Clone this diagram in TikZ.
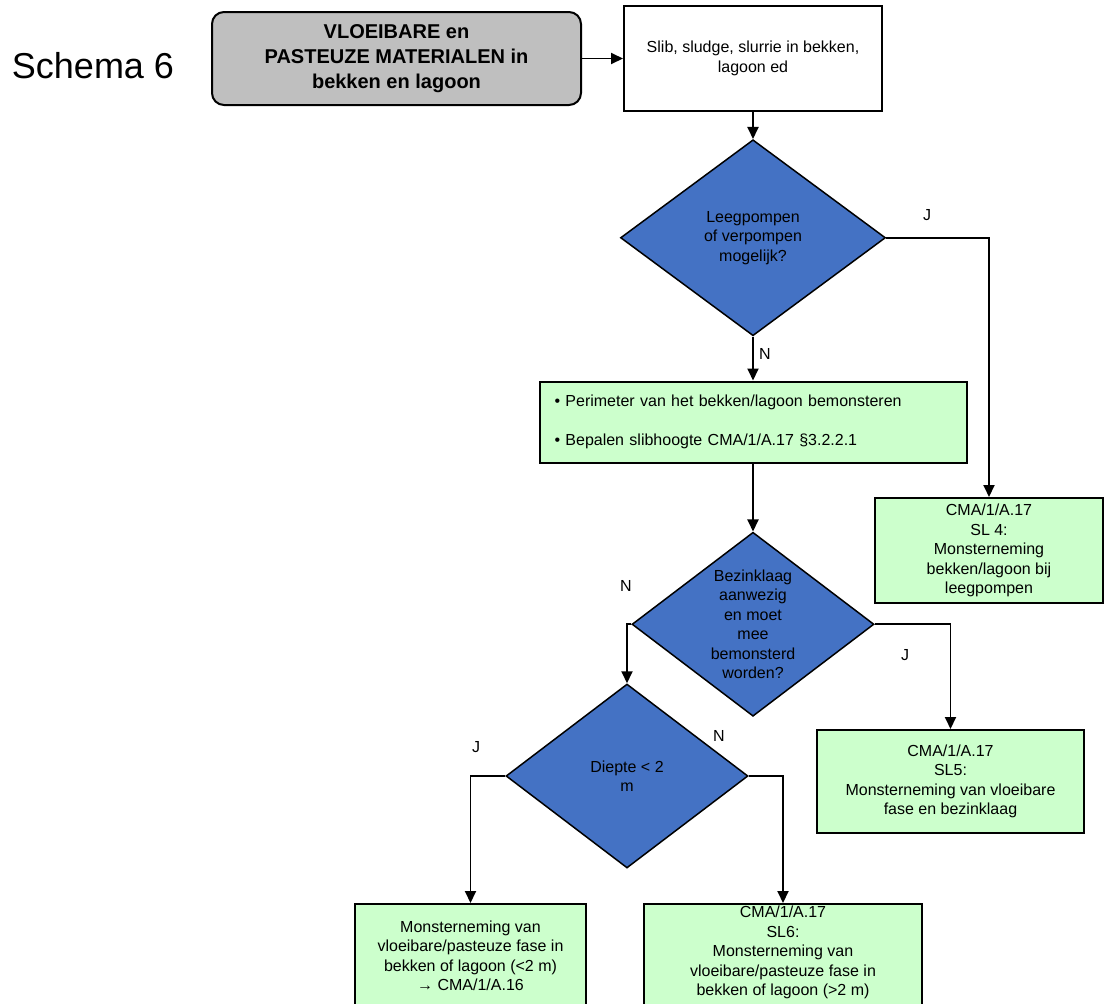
\documentclass[tikz,border=0pt]{standalone}
\usepackage{fontspec}
\setmainfont{Liberation Sans}
\usetikzlibrary{shapes.geometric,positioning,arrows.meta}
\definecolor{keuzeblauw}{HTML}{4472C4}
\definecolor{stapgroen}{HTML}{CCFFCC}
\definecolor{startgrijs}{HTML}{BFBFBF}
\newcommand{\klein}{\fontsize{16}{19.5}\selectfont}
\newcommand{\antwoord}[4]{\node[inner sep=0pt] (#1) at (#2,#3) {#4};}

\begin{document}
\begin{tikzpicture}[x=1pt, y=-1pt, font=\klein,
	blok/.style={draw, line width=2pt, fill=stapgroen, inner sep=0pt, align=center},
	keuze/.style={diamond, draw, line width=1.5pt, fill=keuzeblauw, inner sep=0pt, aspect=1.3, align=center},
	pijl/.style={line width=1.9pt, -{Triangle[length=12pt,width=11pt]}}]
	\useasboundingbox (0,0) rectangle (1104,1004);
	\clip (0,0) rectangle (1104,1004);

	\node[inner sep=0pt, font=\fontsize{36}{40}\selectfont] (schema) at (93,66) {Schema 6};
	\node[draw, line width=2pt, fill=startgrijs, rounded corners=12pt, minimum width=369pt,
		minimum height=93pt, inner sep=0pt, align=center, font=\fontsize{20}{25}\selectfont\bfseries]
		(start) at (396.5,58.5) {VLOEIBARE en\\PASTEUZE MATERIALEN in\\bekken en lagoon};
	\node[draw, line width=2pt, fill=white, minimum width=258pt, minimum height=105pt, inner sep=0pt,
		align=center, right=41pt of start] (slib) {Slib, sludge, slurrie in bekken,\\lagoon ed};
	\node[keuze, minimum width=265pt, minimum height=196pt, below=27pt of slib] (pomp)
		{Leegpompen\\of verpompen\\mogelijk?};
	\node[blok, minimum width=427pt, minimum height=81pt, text width=397pt, align=left,
		below=44pt of pomp] (perim)
		{• Perimeter van het bekken/lagoon bemonsteren\\[19.5pt]• Bepalen slibhoogte CMA/1/A.17 §3.2.2.1};
	\node[keuze, minimum width=242pt, minimum height=184pt, below=68pt of perim] (bezink)
		{Bezinklaag\\aanwezig\\en moet\\mee\\bemonsterd\\worden?};
	\node[keuze, minimum width=242pt, minimum height=184pt] (diepte) at (627,776) {Diepte < 2\\m};

	% eindstappen
	\node[blok, minimum width=228pt, minimum height=105pt] (sl4) at (989,550.5)
		{CMA/1/A.17\\SL 4:\\Monsterneming\\bekken/lagoon bij\\leegpompen};
	\node[blok, minimum width=267pt, minimum height=103pt] (sl5) at (950.5,781.5)
		{CMA/1/A.17\\SL5:\\Monsterneming van vloeibare\\fase en bezinklaag};
	\node[blok, minimum width=231pt, minimum height=104pt] (ondiep) at (470.5,956)
		{Monsterneming van\\vloeibare/pasteuze fase in\\bekken of lagoon (<2 m)\\→ CMA/1/A.16};
	\node[blok, minimum width=278pt, minimum height=104pt] (diep) at (783,956)
		{CMA/1/A.17\\SL6:\\Monsterneming van\\vloeibare/pasteuze fase in\\bekken of lagoon (>2 m)\rule[-10pt]{0pt}{10pt}};

	\antwoord{jPomp}{927}{215}{J} \antwoord{nPomp}{765}{354}{N}
	\antwoord{nBezink}{626}{586}{N} \antwoord{jBezink}{905}{655}{J}
	\antwoord{jDiepte}{476}{747}{J} \antwoord{nDiepte}{719}{736}{N}

	\draw[pijl] (start.east) -- (slib.west);
	\draw[pijl] (slib) -- (pomp);
	\draw[pijl] (pomp.east) -| (sl4.north);
	\draw[pijl] (pomp) -- (perim);
	\draw[pijl] (perim) -- (bezink);
	\draw[pijl] (bezink.east) -| (sl5.north);
	\draw[pijl] (bezink.west) -| (diepte.north);
	\draw[pijl] (diepte.west) -| (ondiep.north);
	\draw[pijl] (diepte.east) -| (diep.north);
\end{tikzpicture}
\end{document}
